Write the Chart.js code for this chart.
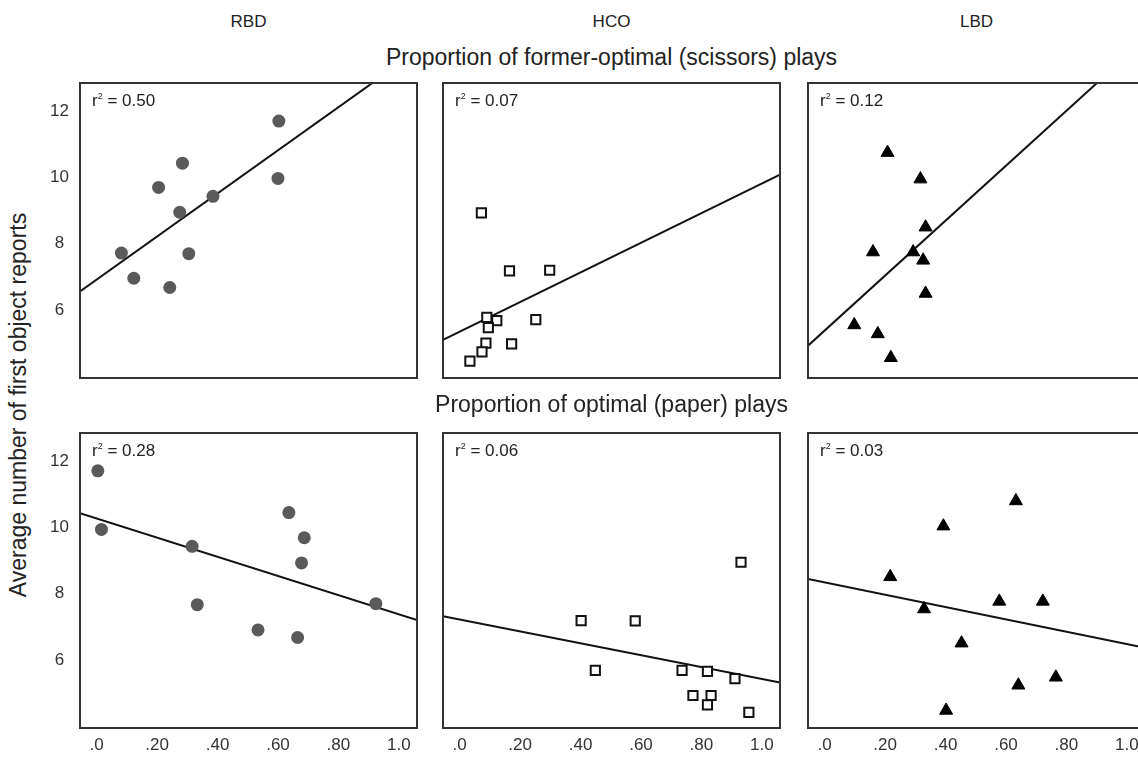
<!DOCTYPE html>
<html>
<head>
<meta charset="utf-8">
<script src="https://cdn.jsdelivr.net/npm/chart.js@4.4.1/dist/chart.umd.min.js"></script>
<style>
  html, body { margin: 0; padding: 0; background: #fff; overflow: hidden; }
  #fig { position: relative; width: 1138px; height: 758px; overflow: hidden;
         font-family: "Liberation Sans", Arial, sans-serif; color: #222; }
  #fig canvas { position: absolute; }
  .lbl { position: absolute; white-space: nowrap; transform: translate(-50%, -50%); }
  .head { font-size: 17px; }
  .sub { font-size: 23px; }
  .r2 { position: absolute; white-space: nowrap; font-size: 17px; transform: translateY(-50%); }
  .r2 sup { font-size: 9px; vertical-align: 7px; line-height: 0; }
  #ytitle { font-size: 23px; transform: translate(-50%, -50%) rotate(-90deg); }
</style>
</head>
<body>
<div id="fig"></div>
<script>
// values
const groups = ['RBD', 'HCO', 'LBD'];
const rowTitles = ['Proportion of former-optimal (scissors) plays', 'Proportion of optimal (paper) plays'];
const yTitle = 'Average number of first object reports';

const xTicks = [0, 0.2, 0.4, 0.6, 0.8, 1.0];
const xTickLabels = ['.0', '.20', '.40', '.60', '.80', '1.0'];
const yTicks = [6, 8, 10, 12];
const yTickLabels = ['6', '8', '10', '12'];

// former-optimal (scissors) plays
const rbdScissorsX = [0.603, 0.284, 0.205, 0.600, 0.385, 0.275, 0.082, 0.305, 0.123, 0.242];
const rbdScissorsY = [11.70, 10.43, 9.70, 9.97, 9.43, 8.95, 7.72, 7.70, 6.96, 6.68];
const hcoScissorsX = [0.072, 0.165, 0.298, 0.090, 0.123, 0.252, 0.095, 0.087, 0.172, 0.074, 0.034];
const hcoScissorsY = [8.93, 7.18, 7.20, 5.78, 5.68, 5.71, 5.47, 5.00, 4.98, 4.74, 4.46];
const lbdScissorsX = [0.208, 0.317, 0.334, 0.160, 0.293, 0.326, 0.334, 0.098, 0.176, 0.219];
const lbdScissorsY = [10.75, 9.95, 8.50, 7.75, 7.75, 7.50, 6.50, 5.55, 5.28, 4.56];

// optimal (paper) plays
const rbdPaperX = [0.004, 0.016, 0.316, 0.333, 0.534, 0.636, 0.687, 0.678, 0.665, 0.924];
const rbdPaperY = [11.71, 9.94, 9.43, 7.67, 6.91, 10.45, 9.69, 8.93, 6.68, 7.70];
const hcoPaperX = [0.402, 0.581, 0.931, 0.449, 0.736, 0.820, 0.911, 0.772, 0.832, 0.820, 0.957];
const hcoPaperY = [7.19, 7.18, 8.95, 5.69, 5.69, 5.66, 5.44, 4.93, 4.93, 4.65, 4.42];
const lbdPaperX = [0.633, 0.393, 0.217, 0.329, 0.578, 0.722, 0.453, 0.641, 0.765, 0.402];
const lbdPaperY = [10.80, 10.04, 8.51, 7.54, 7.77, 7.77, 6.51, 5.24, 5.48, 4.48];

// regression lines and r squared, panel order: top row RBD HCO LBD, then bottom row
const fitIntercepts = [6.92, 5.35, 5.38, 10.27, 7.22, 8.34];
const fitSlopes = [6.50, 4.47, 8.29, -2.89, -1.79, -1.86];
const rSquared = [0.50, 0.07, 0.12, 0.28, 0.06, 0.03];

const panelX = [rbdScissorsX, hcoScissorsX, lbdScissorsX, rbdPaperX, hcoPaperX, lbdPaperX];
const panelY = [rbdScissorsY, hcoScissorsY, lbdScissorsY, rbdPaperY, hcoPaperY, lbdPaperY];

// layout
const X_MIN = -0.055, X_MAX = 1.06, Y_MIN = 3.95, Y_MAX = 12.85;
const colLeft = [80, 443, 808];
const rowTop = [83, 433];
const boxW = 337, boxH = 295;
const AXIS_W = 40, AXIS_H = 30, PAD = 2;

const markStyles = [
  { pointStyle: 'circle', radius: 6.5, bg: '#5a5a5a', border: '#5a5a5a', bw: 0 },
  { pointStyle: 'rect', radius: 6.5, bg: '#ffffff', border: '#111111', bw: 2 },
  { pointStyle: 'triangle', radius: 7.5, bg: '#000000', border: '#000000', bw: 1 }
];

const fig = document.getElementById('fig');

function addLabel(text, x, y, cls) {
  const d = document.createElement('div');
  d.className = 'lbl ' + cls;
  d.textContent = text;
  d.style.left = x + 'px';
  d.style.top = y + 'px';
  fig.appendChild(d);
  return d;
}

// frame round the plot area
const boxPlugin = {
  id: 'panelBox',
  afterDraw(chart) {
    const a = chart.chartArea, ctx = chart.ctx;
    ctx.save();
    ctx.strokeStyle = '#333';
    ctx.lineWidth = 2;
    ctx.strokeRect(a.left, a.top, a.right - a.left, a.bottom - a.top);
    ctx.restore();
  }
};

for (let row = 0; row < 2; row++) {
  for (let col = 0; col < 3; col++) {
    const p = row * 3 + col;
    const st = markStyles[col];

    const canvas = document.createElement('canvas');
    canvas.width = AXIS_W + boxW + PAD;
    canvas.height = PAD + boxH + AXIS_H;
    canvas.style.left = (colLeft[col] - AXIS_W) + 'px';
    canvas.style.top = (rowTop[row] - PAD) + 'px';
    fig.appendChild(canvas);

    const points = panelX[p].map((x, i) => ({ x: x, y: panelY[p][i] }));
    const fit = [X_MIN, X_MAX].map(x => ({ x: x, y: fitIntercepts[p] + fitSlopes[p] * x }));

    new Chart(canvas, {
      type: 'scatter',
      data: {
        datasets: [
          {
            data: points,
            pointStyle: st.pointStyle,
            pointRadius: st.radius,
            pointHoverRadius: st.radius,
            backgroundColor: st.bg,
            borderColor: st.border,
            borderWidth: st.bw,
            order: 0
          },
          {
            type: 'line',
            data: fit,
            borderColor: '#111',
            borderWidth: 2,
            pointRadius: 0,
            fill: false,
            clip: 0,
            order: 1
          }
        ]
      },
      options: {
        responsive: false,
        animation: false,
        devicePixelRatio: 1,
        layout: { autoPadding: false, padding: { top: PAD, right: PAD, left: 0, bottom: 0 } },
        plugins: { legend: { display: false }, tooltip: { enabled: false } },
        scales: {
          x: {
            type: 'linear',
            min: X_MIN,
            max: X_MAX,
            grid: { display: false, drawTicks: false },
            border: { display: false },
            afterBuildTicks: axis => { axis.ticks = xTicks.map(v => ({ value: v })); },
            afterFit: axis => { axis.height = AXIS_H; axis.paddingLeft = 0; axis.paddingRight = 0; },
            ticks: {
              display: row === 1,
              autoSkip: false,
              maxRotation: 0,
              padding: 7,
              color: '#333',
              font: { family: '"Liberation Sans", Arial, sans-serif', size: 17 },
              callback: (v, i) => xTickLabels[i]
            }
          },
          y: {
            type: 'linear',
            min: Y_MIN,
            max: Y_MAX,
            grid: { display: false, drawTicks: false },
            border: { display: false },
            afterBuildTicks: axis => { axis.ticks = yTicks.map(v => ({ value: v })); },
            afterFit: axis => { axis.width = AXIS_W; axis.paddingTop = 0; axis.paddingBottom = 0; },
            ticks: {
              display: col === 0,
              crossAlign: 'center',
              padding: 11,
              color: '#333',
              font: { family: '"Liberation Sans", Arial, sans-serif', size: 17 },
              callback: (v, i) => yTickLabels[i]
            }
          }
        }
      },
      plugins: [boxPlugin]
    });

    const r2 = document.createElement('div');
    r2.className = 'r2';
    r2.innerHTML = 'r<sup>2</sup> = ' + rSquared[p].toFixed(2);
    r2.style.left = (colLeft[col] + 12) + 'px';
    r2.style.top = (rowTop[row] + 18) + 'px';
    fig.appendChild(r2);
  }
}

groups.forEach((g, i) => addLabel(g, colLeft[i] + boxW / 2, 22, 'head'));
addLabel(rowTitles[0], colLeft[1] + boxW / 2, 57, 'sub');
addLabel(rowTitles[1], colLeft[1] + boxW / 2, 404, 'sub');
const yt = addLabel(yTitle, 18, 405, 'sub');
yt.id = 'ytitle';
</script>
</body>
</html>
